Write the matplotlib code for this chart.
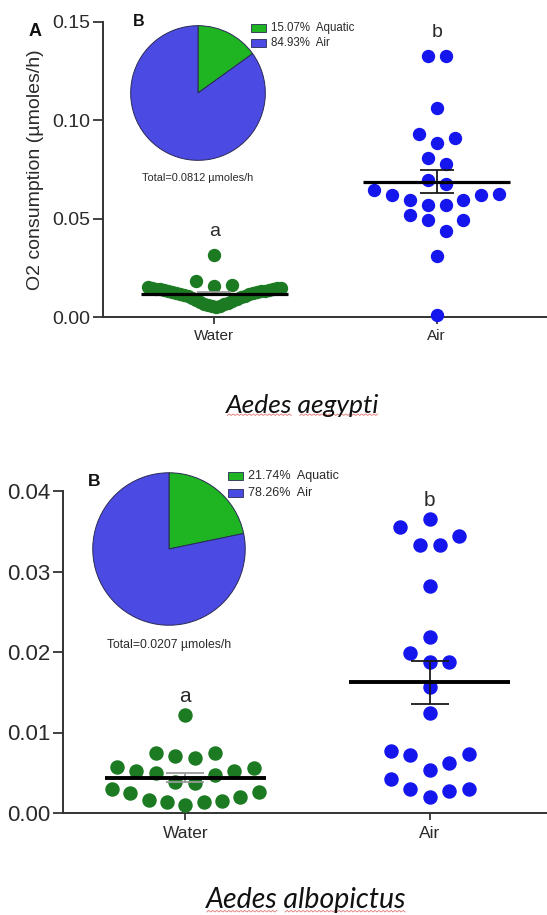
import numpy as np
import matplotlib
matplotlib.use('Agg')
import matplotlib.pyplot as plt
from matplotlib.patches import Rectangle
from matplotlib.lines import Line2D

# ---------------- data ----------------
categories = ['Water', 'Air']

# Aedes aegypti (panel 1)
aeg_water = [0.0050, 0.0055, 0.0058, 0.0062, 0.0065, 0.0068, 0.0072, 0.0075, 0.0080,
             0.0085, 0.0090, 0.0095, 0.0100, 0.0105, 0.0108, 0.0112, 0.0115, 0.0118,
             0.0120, 0.0122, 0.0125, 0.0127, 0.0130, 0.0132, 0.0134, 0.0136, 0.0138,
             0.0140, 0.0142, 0.0144, 0.0146, 0.0148, 0.0150, 0.0151, 0.0160, 0.0162,
             0.0185, 0.0315]
aeg_air = [0.1325, 0.1325, 0.1065, 0.0932, 0.0911, 0.0883, 0.0806, 0.0779, 0.0699,
           0.0677, 0.0646, 0.0626, 0.0622, 0.0622, 0.0595, 0.0595, 0.0570, 0.0568,
           0.0517, 0.0491, 0.0491, 0.0439, 0.0308, 0.0010]
aeg_pie_pct = [15.07, 84.93]
aeg_total = '0.0812'
aeg_letters = ['a', 'b']
aeg_yticks = [0.00, 0.05, 0.10, 0.15]

# Aedes albopictus (panel 2)
alb_water = [0.01217, 0.00741, 0.00678, 0.00708, 0.00741, 0.00571, 0.00526, 0.00493,
             0.00389, 0.00370, 0.00472, 0.00526, 0.00555, 0.00302, 0.00245, 0.00161,
             0.00141, 0.00104, 0.00137, 0.00153, 0.00195, 0.00261]
alb_air = [0.03652, 0.03549, 0.03437, 0.03329, 0.03329, 0.02816, 0.02182, 0.01984,
           0.01880, 0.01872, 0.01561, 0.01242, 0.00720, 0.00729, 0.00766, 0.00617,
           0.00534, 0.00422, 0.00298, 0.00277, 0.00298, 0.00203]
alb_pie_pct = [21.74, 78.26]
alb_total = '0.0207'
alb_letters = ['a', 'b']
alb_yticks = [0.00, 0.01, 0.02, 0.03, 0.04]

pie_labels = ['Aquatic', 'Air']
titles = ['Aedes aegypti', 'Aedes albopictus']
ylabel = 'O2 consumption (\u00b5moles/h)'

# ---------------- style ----------------
W, H = 547, 915
DOT_COLORS = ['#1c7a22', '#1515ee']
PIE_COLORS = ['#1fb422', '#4b4be4']
PIE_EDGE = '#2a2a55'
TXT = '#2a2a2a'
plt.rcParams['font.family'] = ['Liberation Sans', 'DejaVu Sans']

fig = plt.figure(figsize=(W / 100, H / 100), dpi=100)


def fx(px):
    return px / W


def fy(py):
    return 1 - py / H


def row_offsets(values, bin_h, spacing, max_w):
    """GraphPad-like scatter layout: group close values into rows,
    spread each row around the centre, lowest values nearest the centre."""
    v = np.asarray(values, float)
    order = np.argsort(v, kind='stable')
    offs = np.zeros(len(v))
    rows, cur = [], [order[0]]
    for i in order[1:]:
        if v[i] - v[cur[0]] < bin_h:
            cur.append(i)
        else:
            rows.append(cur)
            cur = [i]
    rows.append(cur)
    for r in rows:
        n = len(r)
        if n == 1:
            continue
        sp = min(spacing, max_w / (n - 1))
        slots = (np.arange(n) - (n - 1) / 2) * sp
        slots = sorted(slots, key=lambda s: (round(abs(s), 9), -s))
        for idx, s in zip(r, slots):
            offs[idx] = s
    return offs


def panel(rect, groups, yticks, letters, msize, tick_fs, xlab_fs, let_fs,
          mean_lw, capsize, letter_pad):
    ax = fig.add_axes(rect)
    ymax = yticks[-1]
    ax.set_xlim(-0.5, 1.5)
    ax.set_ylim(0, ymax)
    ax_h_px = rect[3] * H
    bin_h = 20 / ax_h_px * ymax
    for i, vals in enumerate(groups):
        vals = np.asarray(vals)
        offs = row_offsets(vals, bin_h, 0.08, 0.60)
        ax.plot(i + offs, vals, 'o', ms=msize, color=DOT_COLORS[i],
                mec=DOT_COLORS[i], clip_on=False, zorder=3)
        m = vals.mean()
        sem = vals.std(ddof=1) / np.sqrt(len(vals))
        ecol = '#9a9a9a' if i == 0 else '#1a1a1a'
        ax.errorbar([i], [m], yerr=[sem], fmt='none', ecolor=ecol,
                    elinewidth=1.3, capsize=capsize, capthick=1.3, zorder=4)
        ax.hlines(m, i - 0.33, i + 0.33, colors='black', lw=mean_lw, zorder=5)
        ax.text(i, vals.max() + letter_pad, letters[i], ha='center', va='center',
                fontsize=let_fs, color=TXT)
    ax.set_xticks([0, 1])
    ax.set_xticklabels(categories, fontsize=xlab_fs, color=TXT)
    ax.set_yticks(yticks)
    ax.set_yticklabels(['%.2f' % t for t in yticks], fontsize=tick_fs, color=TXT)
    for s in ['top', 'right']:
        ax.spines[s].set_visible(False)
    for s in ['left', 'bottom']:
        ax.spines[s].set_color('#333333')
        ax.spines[s].set_linewidth(1.4)
    ax.tick_params(axis='y', length=7, width=1.3, color='#333333', pad=2)
    ax.tick_params(axis='x', length=5, width=1.3, color='#333333', pad=4)
    return ax


def pie_inset(cx, cy, r, pct, legend_x, legend_y, legend_dy, fs, total, total_y, total_fs):
    pax = fig.add_axes([fx(cx - r), fy(cy + r), 2 * r / W, 2 * r / H])
    pax.pie(pct, colors=PIE_COLORS, startangle=90, counterclock=False,
            wedgeprops=dict(edgecolor=PIE_EDGE, linewidth=0.7))
    pax.set_xlim(-1.01, 1.01)
    pax.set_ylim(-1.01, 1.01)
    pax.set_aspect('auto')
    pax.axis('off')
    for k in range(2):
        yy = legend_y + k * legend_dy
        fig.patches.append(Rectangle((fx(legend_x), fy(yy + 4)), 15 / W, 8 / H,
                                     transform=fig.transFigure, facecolor=PIE_COLORS[k],
                                     edgecolor=PIE_EDGE, linewidth=0.6))
        fig.text(fx(legend_x + 20), fy(yy), '%.2f%%  %s' % (pct[k], pie_labels[k]),
                 ha='left', va='center', fontsize=fs, color=TXT)
    fig.text(fx(cx), fy(total_y), 'Total=%s \u00b5moles/h' % total, ha='center',
             va='center', fontsize=total_fs, color=TXT)


def species_title(cx, cy, text, fs):
    props = dict(fontsize=fs, style='italic', family=['Lato', 'DejaVu Sans'])
    t = fig.text(fx(cx), fy(cy), text, ha='center', va='center', color='#111111', **props)
    r = fig.canvas.get_renderer()
    bb = t.get_window_extent(r)
    # spell-check style wavy underline under each word
    words = text.split(' ')
    x_left = bb.x0
    for k, w in enumerate(words):
        prefix = ' '.join(words[:k] + ([''] if k else []))
        tmp1 = fig.text(0, 0, prefix if prefix else '', **props)
        tmp2 = fig.text(0, 0, ' '.join(words[:k + 1]), **props)
        w0 = tmp1.get_window_extent(r).width if prefix else 0.0
        w1 = tmp2.get_window_extent(r).width
        tmp1.remove()
        tmp2.remove()
        xs = np.arange(x_left + w0 + 1, x_left + w1, 2.0)
        ys = bb.y0 + 1.0 + np.where(np.arange(len(xs)) % 2 == 0, 0.0, 1.6)
        fig.add_artist(Line2D(xs / W, ys / H, transform=fig.transFigure,
                              color='#e04848', lw=0.6, alpha=0.75))


# ---------------- panel 1 ----------------
ax1 = panel([fx(103), fy(317), (548 - 103) / W, (317 - 22) / H],
            [aeg_water, aeg_air], aeg_yticks, aeg_letters,
            msize=8.6, tick_fs=14, xlab_fs=11, let_fs=14,
            mean_lw=2.3, capsize=12.5, letter_pad=0.012)
ax1.set_ylabel(ylabel, fontsize=14, color=TXT, labelpad=6)
pie_inset(198, 93, 68, aeg_pie_pct, 251, 28, 15, 8.3, aeg_total, 178, 7.9)
fig.text(fx(35), fy(31), 'A', ha='center', va='center', fontsize=13,
         fontweight='bold', color='#111111')
fig.text(fx(139), fy(22), 'B', ha='center', va='center', fontsize=11.5,
         fontweight='bold', color='#111111')

# ---------------- panel 2 ----------------
ax2 = panel([fx(63), fy(813), (552 - 63) / W, (813 - 491) / H],
            [alb_water, alb_air], alb_yticks, alb_letters,
            msize=9.4, tick_fs=16, xlab_fs=12.5, let_fs=15,
            mean_lw=2.8, capsize=14, letter_pad=0.0023)
pie_inset(169, 549, 77, alb_pie_pct, 228, 476, 17, 9.0, alb_total, 645, 8.8)
fig.text(fx(94), fy(482), 'B', ha='center', va='center', fontsize=12.5,
         fontweight='bold', color='#111111')

# ---------------- species titles ----------------
species_title(303, 405, titles[0], 19)
species_title(306, 900, titles[1], 20.5)

fig.savefig('out.png', dpi=100)
